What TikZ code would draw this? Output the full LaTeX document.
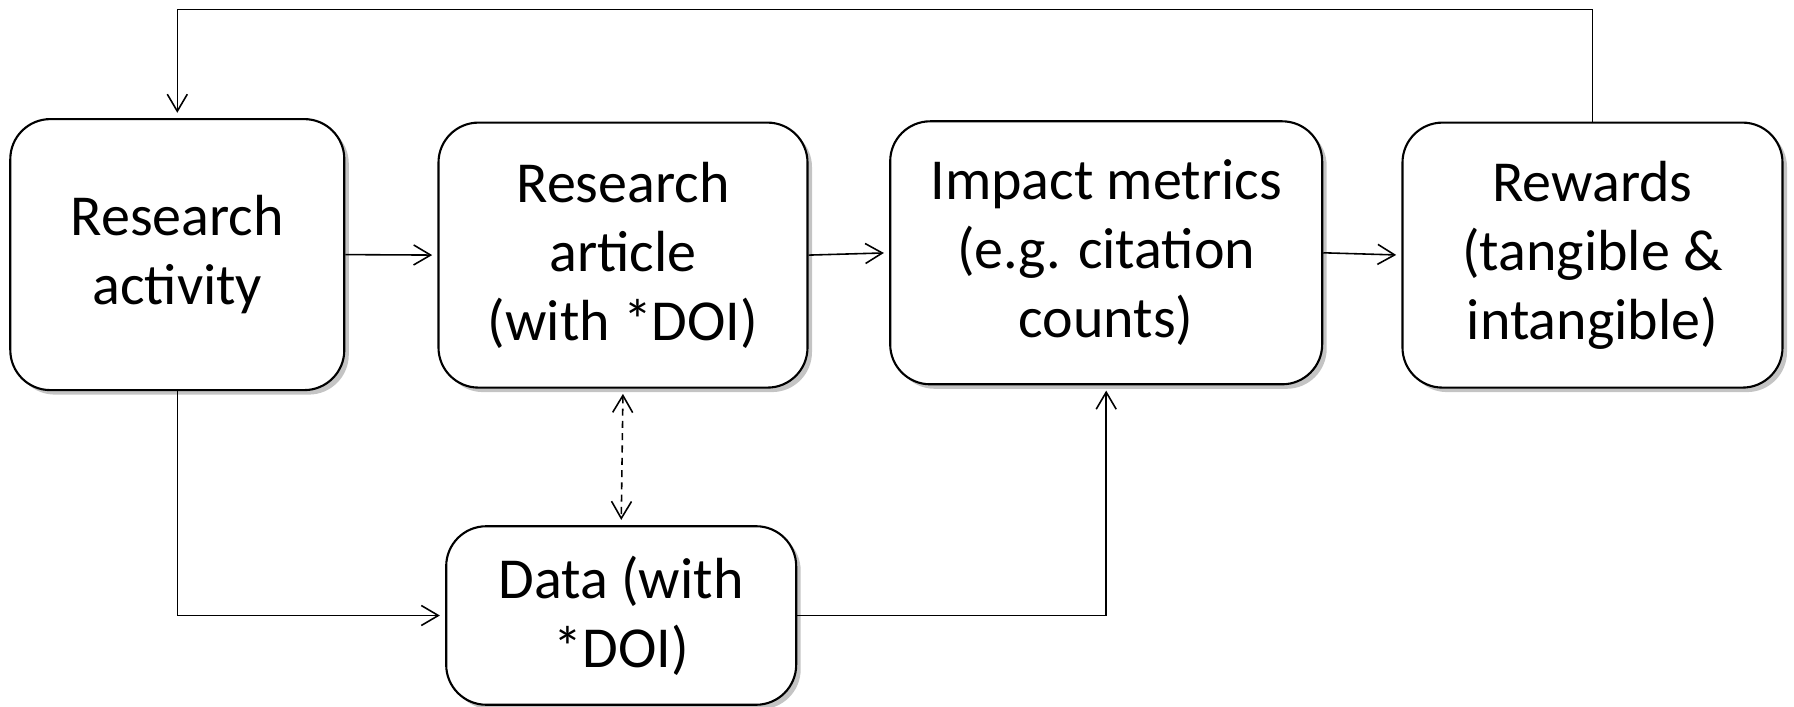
\documentclass[tikz,border=0pt]{standalone}
\usepackage{fontspec}
\setmainfont{Carlito}
\usetikzlibrary{arrows.meta, shadows, calc}
\definecolor{cShadow}{HTML}{C4C4C4}

\begin{document}
\begin{tikzpicture}[
    stage/.style={draw, rounded corners=0.4cm, line width=0.6pt, fill=white,
      drop shadow={shadow xshift=0.045cm, shadow yshift=-0.045cm,
                   fill=cShadow, opacity=1},
      align=center, inner sep=0pt,
      font=\fontsize{16.5}{19.6}\selectfont},
    link/.style={line width=0.45pt, shorten >=1.5pt,
      -{Straight Barb[length=0.17cm, width=0.2cm]}},
  ]
  \useasboundingbox (0,0) rectangle (17.94,-7.07);

  % top row
  \node[stage, minimum width=3.34cm, minimum height=2.71cm]
        (act_box) at (1.773,-2.546) {Research\\activity};
  \node[stage, minimum width=3.69cm, minimum height=2.65cm]
        (art_box) at (6.23,-2.551) {Research\\article\\(with *DOI)};
  \node[stage, minimum width=4.32cm, minimum height=2.63cm]
        (imp_box) at (11.062,-2.528) {Impact metrics\\(e.g. citation\\counts)};
  \node[stage, minimum width=3.80cm, minimum height=2.65cm]
        (rew_box) at (15.925,-2.551) {Rewards\\(tangible \&\\intangible)};

  % data
  \node[stage, minimum width=3.50cm, minimum height=1.785cm]
        (dat_box) at (6.212,-6.155) {Data (with\\*DOI)};

  \coordinate (loop_top) at ($(rew_box.north)+(0,1.12)$);

  \draw[link] (act_box.east) -- (art_box.west);
  \draw[link] (art_box.east) -- (imp_box.west);
  \draw[link] (imp_box.east) -- (rew_box.west);
  \draw[link] (rew_box.north) |- (loop_top -| act_box.north) -- (act_box.north);
  \draw[link] (act_box.south) |- (dat_box.west);
  \draw[link] (dat_box.east) -| (imp_box.south);
  \draw[link, dashed, dash pattern=on 2pt off 1.5pt, shorten <=1.5pt,
        {Straight Barb[length=0.17cm, width=0.2cm]}-{Straight Barb[length=0.17cm, width=0.2cm]}]
        (art_box.south) -- (dat_box.north);
\end{tikzpicture}
\end{document}
